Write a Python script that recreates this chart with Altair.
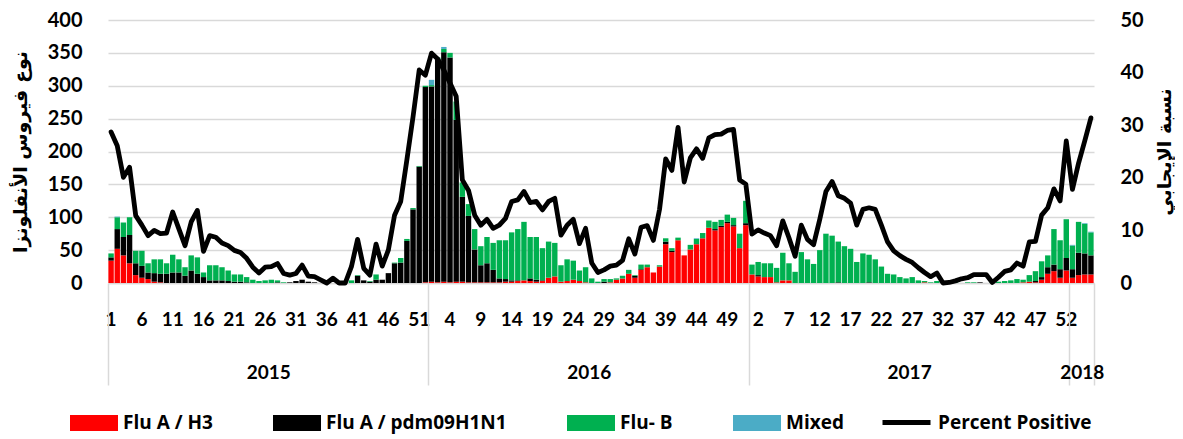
import altair as alt
import pandas as pd

FONT = "Lato"
LEG_FONT = "Open Sans"
AR_FONT = "DejaVu Sans"

years = ["2015", "2016", "2017", "2018"]
weeks_per_year = [52, 52, 52, 4]

series_names = ["Flu A / H3", "Flu A / pdm09H1N1", "Flu- B", "Mixed"]
series_colors = ["#FF0000", "#000000", "#00B050", "#4BACC6"]
line_name = "Percent Positive"
left_title = "نوع فيروس الأنفلونزا"
right_title = "نسبة الإيجابي"
left_ticks = [0, 50, 100, 150, 200, 250, 300, 350, 400]
right_ticks = [0, 10, 20, 30, 40, 50]

flu_a_h3 = [
    # 2015
    34, 52, 42, 30, 12, 8, 6, 2, 1, 0, 0, 0, 0, 0, 0, 0, 0, 0, 0, 0,
    0, 0, 0, 0, 0, 0, 0, 0, 0, 0, 0, 0, 0, 0, 0, 0, 0, 0, 0, 0,
    0, 0, 0, 0, 0, 0, 0, 0, 0, 0, 0, 1,
    # 2016
    2, 1, 2, 1, 2, 2, 1, 1, 1, 1, 1, 1, 2, 2, 3, 4, 3, 2, 3, 8,
    10, 2, 3, 5, 3, 1, 0, 0, 0, 1, 5, 7, 14, 8, 20, 24, 16, 25, 59, 47,
    65, 42, 51, 59, 68, 84, 80, 85, 91, 86, 53, 88,
    # 2017
    13, 10, 9, 9, 1, 4, 4, 0, 0, 0, 0, 0, 0, 0, 0, 0, 0, 0, 0, 0,
    0, 0, 0, 0, 0, 0, 0, 0, 1, 0, 0, 0, 0, 0, 0, 0, 0, 0, 0, 0,
    0, 0, 0, 0, 1, 2, 1, 5, 14, 18, 8, 19,
    # 2018
    8, 12, 13, 13,
]

flu_a_h1n1 = [
    # 2015
    5, 30, 28, 43, 18, 18, 10, 13, 13, 14, 16, 16, 11, 19, 14, 9, 4, 4, 4, 3,
    2, 2, 1, 0, 0, 0, 0, 1, 0, 1, 3, 5, 2, 1, 0, 0, 0, 0, 0, 0,
    11, 4, 2, 5, 5, 15, 30, 31, 64, 112, 177, 297,
    # 2016
    297, 339, 349, 342, 246, 129, 101, 50, 26, 29, 19, 6, 4, 2, 1, 0, 4, 3, 1, 0,
    0, 0, 0, 0, 0, 0, 0, 0, 2, 0, 0, 0, 0, 3, 1, 0, 0, 0, 4, 2,
    0, 0, 0, 0, 0, 0, 2, 2, 2, 2, 0, 3,
    # 2017
    0, 2, 0, 0, 0, 0, 0, 0, 0, 0, 0, 0, 0, 0, 1, 0, 0, 0, 0, 1,
    0, 0, 0, 0, 0, 0, 0, 0, 0, 0, 0, 0, 0, 0, 0, 0, 0, 1, 0, 0,
    0, 0, 0, 0, 0, 0, 2, 4, 10, 10, 13, 19,
    # 2018
    13, 34, 32, 29,
]

flu_b = [
    # 2015
    6, 18, 22, 27, 19, 23, 14, 21, 22, 16, 27, 20, 13, 23, 25, 7, 23, 23, 20, 16,
    11, 11, 8, 5, 3, 4, 5, 3, 1, 0, 0, 0, 0, 0, 0, 0, 0, 0, 0, 4,
    1, 0, 1, 8, 0, 0, 1, 7, 3, 2, 1, 2,
    # 2016
    2, 3, 5, 7, 28, 22, 18, 31, 29, 40, 41, 58, 59, 73, 78, 89, 63, 65, 49, 55,
    51, 25, 33, 29, 16, 23, 7, 2, 4, 5, 2, 4, 6, 1, 7, 4, 0, 2, 5, 4,
    4, 0, 7, 8, 8, 11, 11, 9, 11, 11, 22, 34,
    # 2017
    15, 20, 21, 21, 22, 42, 26, 17, 47, 36, 29, 50, 75, 72, 62, 56, 52, 32, 45, 42,
    36, 25, 14, 13, 9, 7, 9, 4, 2, 1, 3, 2, 0, 1, 0, 1, 1, 0, 0, 1,
    2, 3, 4, 6, 4, 10, 15, 24, 18, 54, 44, 59,
    # 2018
    36, 47, 45, 35,
]

mixed = [
    # 2015
    0, 1, 0, 0, 0, 0, 0, 0, 0, 0, 0, 0, 0, 0, 0, 0, 0, 0, 0, 0,
    0, 0, 0, 0, 0, 0, 0, 0, 0, 0, 0, 0, 0, 0, 0, 0, 0, 0, 0, 0,
    0, 0, 0, 0, 0, 0, 0, 0, 0, 0, 0, 0,
    # 2016
    8, 0, 3, 0, 0, 0, 0, 0, 0, 0, 0, 0, 0, 0, 0, 0, 0, 0, 0, 0,
    0, 0, 0, 0, 0, 0, 0, 0, 0, 0, 0, 0, 0, 0, 0, 0, 0, 0, 0, 0,
    0, 0, 0, 1, 0, 0, 0, 0, 0, 0, 0, 0,
    # 2017
    0, 0, 0, 0, 0, 0, 0, 0, 0, 0, 0, 0, 0, 0, 0, 0, 0, 0, 0, 0,
    0, 0, 0, 0, 0, 0, 0, 0, 0, 0, 0, 0, 0, 0, 0, 0, 0, 0, 0, 0,
    0, 0, 0, 0, 0, 0, 0, 0, 0, 0, 0, 0,
    # 2018
    1, 0, 1, 1,
]

percent_positive = [
    # 2015
    28.7, 26.1, 20.1, 22.0, 12.8, 11.0, 9.0, 10.0, 9.4, 9.5,
    13.5, 10.3, 7.1, 11.6, 13.8, 6.0, 9.0, 8.7, 7.6, 7.1,
    6.2, 5.8, 4.7, 3.0, 1.9, 3.0, 3.1, 3.7, 1.8, 1.5,
    1.8, 3.4, 1.3, 1.2, 0.6, 0.0, 0.9, 0.0, 0.0, 3.1,
    8.3, 2.8, 1.5, 7.4, 3.2, 6.3, 12.9, 15.5, 23.4, 31.6,
    40.5, 39.5,
    # 2016
    43.7, 42.6, 40.5, 38.0, 35.5, 19.6, 17.6, 12.9, 11.0, 12.1,
    10.4, 11.0, 12.3, 15.5, 15.8, 17.4, 15.3, 15.5, 13.9, 15.5,
    16.1, 9.1, 11.0, 12.1, 7.5, 10.4, 3.8, 2.0, 2.5, 3.2,
    3.4, 4.3, 8.4, 5.5, 10.6, 10.9, 8.1, 14.0, 23.6, 21.4,
    29.6, 19.2, 23.8, 25.5, 23.7, 27.6, 28.2, 28.3, 29.0, 29.2,
    19.6, 18.8,
    # 2017
    9.3, 10.1, 9.5, 9.0, 7.1, 11.8, 8.6, 5.1, 11.0, 8.3,
    7.3, 12.1, 17.4, 19.3, 16.6, 16.1, 15.2, 11.0, 14.0, 14.3,
    14.0, 11.0, 7.8, 6.1, 5.2, 4.5, 3.9, 2.9, 2.0, 1.2,
    1.9, 0.0, 0.1, 0.4, 0.8, 1.0, 1.6, 1.6, 1.6, 0.1,
    1.1, 2.2, 2.5, 3.8, 3.2, 7.8, 7.9, 12.9, 14.3, 17.9,
    15.6, 27.0,
    # 2018
    17.8, 22.8, 27.0, 31.4,
]

# ---- build tables ----
keys = []
for y, n in zip(years, weeks_per_year):
    for w in range(1, n + 1):
        keys.append(f"{y}-{w}")

rows = []
for s_i, (name, vals) in enumerate(zip(series_names, [flu_a_h3, flu_a_h1n1, flu_b, mixed])):
    for k, v in zip(keys, vals):
        rows.append({"key": k, "series": name, "value": v, "order": s_i})
bars_df = pd.DataFrame(rows)

line_df = pd.DataFrame({"key": keys, "pct": percent_positive, "label": line_name})

bounds = [0]
for n in weeks_per_year:
    bounds.append(bounds[-1] + n)
mids = [(a + b) / 2 for a, b in zip(bounds[:-1], bounds[1:])]
total = bounds[-1]
sep_df = pd.DataFrame({"b": bounds})
mid_df = pd.DataFrame({"m": mids, "year": years})
year_expr = " : ".join(f"datum.value == {m} ? '{y}'" for m, y in zip(mids, years)) + " : ''"

label_style = dict(labelFont=FONT, labelFontWeight="bold", labelColor="#000000")
legend_style = dict(labelFont=LEG_FONT, labelFontWeight="bold", labelColor="#000000",
                    labelFontSize=19, labelOffset=5, labelLimit=400, padding=0)

bars = alt.Chart(bars_df).mark_bar().encode(
    x=alt.X(
        "key:O", sort=keys,
        scale=alt.Scale(type="band", paddingInner=0.12, paddingOuter=0.06),
        axis=alt.Axis(
            orient="bottom", values=keys[::5], labelExpr="split(datum.value, '-')[1]",
            title=None, labelAngle=0, labelFontSize=19, labelPadding=27, ticks=False,
            domain=True, domainColor="#D9D9D9", domainWidth=1.5, grid=False,
            labelOverlap=False, **label_style,
        ),
    ),
    y=alt.Y(
        "value:Q", stack="zero", scale=alt.Scale(domain=[0, 400], nice=False),
        axis=alt.Axis(
            values=left_ticks, title=left_title, titleFont=AR_FONT, titleFontSize=19,
            titleFontWeight="bold", titleColor="#000000", titlePadding=17,
            labelFontSize=20, labelPadding=26, ticks=False, tickSize=0, domain=False,
            grid=True, gridColor="#D9D9D9", gridWidth=1.5, **label_style,
        ),
    ),
    color=alt.Color(
        "series:N",
        scale=alt.Scale(domain=series_names, range=series_colors),
        legend=alt.Legend(
            orient="none", legendX=-38, legendY=379, direction="horizontal", title=None,
            symbolType="M-1,-0.333H1V0.333H-1Z", symbolSize=2304, symbolStrokeWidth=0,
            columnPadding=60, **legend_style,
        ),
    ),
    order=alt.Order("order:Q"),
)

line = alt.Chart(line_df).mark_line(strokeWidth=4.8, strokeJoin="round", strokeCap="round").encode(
    x=alt.X("key:O", sort=keys, scale=alt.Scale(type="point", padding=0.5), axis=None),
    y=alt.Y(
        "pct:Q", scale=alt.Scale(domain=[0, 50], nice=False),
        axis=alt.Axis(
            orient="right", values=right_ticks, title=right_title, titleFont=AR_FONT,
            titleFontSize=19, titleFontWeight="bold", titleColor="#000000", titleAngle=270,
            titleBaseline="top", titlePadding=12, labelFontSize=20, labelPadding=26,
            ticks=False, tickSize=0, domain=False, grid=False, **label_style,
        ),
    ),
    color=alt.Color(
        "label:N",
        scale=alt.Scale(domain=[line_name], range=["#000000"]),
        legend=alt.Legend(
            orient="none", legendX=772, legendY=376, title=None, symbolType="stroke",
            symbolSize=2304, symbolStrokeWidth=5, **legend_style,
        ),
    ),
)

seps = alt.Chart(sep_df).mark_point(opacity=0).encode(
    x=alt.X(
        "b:Q", scale=alt.Scale(domain=[0, total], nice=False, zero=False),
        axis=alt.Axis(
            orient="bottom", values=bounds, labels=False, ticks=True, tickSize=102,
            tickColor="#D9D9D9", tickWidth=1.5, domain=False, grid=False, title=None,
        ),
    ),
)

year_labels = alt.Chart(mid_df).mark_point(opacity=0).encode(
    x=alt.X(
        "m:Q", scale=alt.Scale(domain=[0, total], nice=False, zero=False),
        axis=alt.Axis(
            orient="bottom", values=mids, labelExpr=year_expr, ticks=False, domain=False,
            grid=False, labelPadding=80, labelFontSize=19, labelFlush=False,
            labelOverlap=False, title=None, **label_style,
        ),
    ),
)

chart = alt.layer(bars, line, seps, year_labels).resolve_scale(
    x="independent", y="independent", color="independent"
).properties(
    width=986, height=263,
    padding={"left": 100, "top": 12, "right": 81, "bottom": 156},
    autosize=alt.AutoSizeParams(type="none"),
).configure_view(stroke=None)

chart.save("out.html", embed_options={"renderer": "svg", "actions": False})
